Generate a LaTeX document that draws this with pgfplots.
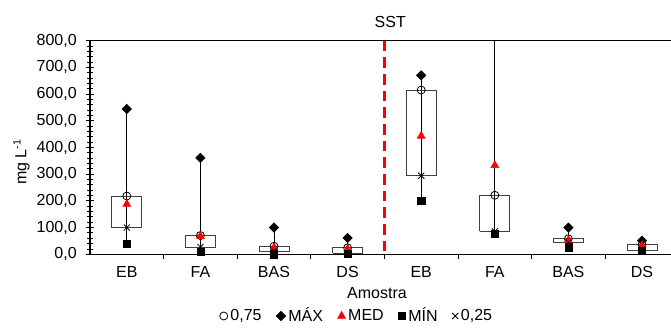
\documentclass[border=0pt]{standalone}
\usepackage{fontspec}
\setmainfont{Liberation Sans}
\usepackage{pgfplots}
\pgfplotsset{compat=1.18}
\usepackage{pgfplotstable}

\pgfplotstableread{
x q3 max med min q1
0 218 544 188 40 100
1 70 361 68 10 27
2 30 100 25 0 12
3 24 61 20 1 4
4 615 670 443 201 294
5 221 900 333 76 86
6 58 100 53 26 44
7 36 51 33 14 16
}\data

\pgfplotsset{
  bx/.style={forget plot, draw=black!75, line width=0.6pt, mark=none},
  wh/.style={forget plot, black, line width=0.6pt, mark=none},
}

\begin{document}
\fontsize{12}{14}\selectfont
\begin{tikzpicture}
\begin{axis}[
  scale only axis, width=435.75pt, height=160.2pt,
  xmin=-0.5, xmax=7.394, ymin=0, ymax=800,
  axis x line*=box, axis y line*=left,
  axis line style={black, line width=0.8pt},
  font=\fontsize{12}{14}\selectfont,
  xtick={0,...,7},
  xticklabels={EB,FA,BAS,DS,EB,FA,BAS,DS},
  xticklabel style={yshift=-5pt},
  xtick pos=left,
  major x tick style={draw=none},
  extra x ticks={0.5,1.5,2.5,3.5,4.5,5.5,6.5},
  extra x tick labels={},
  extra x tick style={major x tick style={draw=black, line width=0.6pt}, major tick length=3.75pt, tick align=outside},
  ytick={0,100,...,800},
  minor y tick num=4,
  ytick align=center,
  major y tick style={line width=0.6pt, black},
  minor y tick style={line width=0.6pt, black},
  major tick length=6.5pt, minor tick length=4.5pt,
  yticklabel style={xshift=-2.5pt, /pgf/number format/.cd, fixed, fixed zerofill, precision=1, use comma},
  /pgf/number format/assume math mode=true,
  xlabel={Amostra},
  ylabel={mg L\textsuperscript{-1}},
  xlabel style={at={(axis description cs:0.494,-0.181)}, anchor=center},
  ylabel style={at={(axis description cs:-0.118,0.432)}, anchor=center},
  legend style={at={(axis description cs:0.46,-0.289)}, anchor=center, draw=none,
    font=\fontsize{12}{14}\selectfont, inner sep=0pt,
    /tikz/every even column/.append style={column sep=9pt}},
  legend columns=5,
  legend cell align=left,
]
% whiskers (min to max)
\addplot[wh] coordinates {(0,40) (0,544)};
\addplot[wh] coordinates {(1,10) (1,361)};
\addplot[wh] coordinates {(2,0) (2,100)};
\addplot[wh] coordinates {(3,1) (3,61)};
\addplot[wh] coordinates {(4,201) (4,670)};
\addplot[wh] coordinates {(5,76) (5,900)};
\addplot[wh] coordinates {(6,26) (6,100)};
\addplot[wh] coordinates {(7,14) (7,51)};
% boxes (0,25 to 0,75)
\addplot[bx] coordinates {(-0.205,100) (0.205,100) (0.205,218) (-0.205,218) (-0.205,100)};
\addplot[bx] coordinates {(0.795,27) (1.205,27) (1.205,70) (0.795,70) (0.795,27)};
\addplot[bx] coordinates {(1.795,12) (2.205,12) (2.205,30) (1.795,30) (1.795,12)};
\addplot[bx] coordinates {(2.795,4) (3.205,4) (3.205,24) (2.795,24) (2.795,4)};
\addplot[bx] coordinates {(3.795,294) (4.205,294) (4.205,615) (3.795,615) (3.795,294)};
\addplot[bx] coordinates {(4.795,86) (5.205,86) (5.205,221) (4.795,221) (4.795,86)};
\addplot[bx] coordinates {(5.795,44) (6.205,44) (6.205,58) (5.795,58) (5.795,44)};
\addplot[bx] coordinates {(6.795,16) (7.205,16) (7.205,36) (6.795,36) (6.795,16)};
% red dashed separator
\addplot[forget plot, red, line width=2.2pt, dash pattern=on 8pt off 4.5pt, mark=none] coordinates {(3.5,800) (3.5,0)};
% markers
\addplot[only marks, mark=o, black, mark size=3pt, mark options={line width=0.6pt}] table[x=x, y=q3] {\data};
\addlegendentry{0,75}
\addplot[only marks, mark=square*, black, mark size=2.5pt, mark options={rotate=45}] table[x=x, y=max] {\data};
\addlegendentry{MÁX}
\addplot[only marks, mark=triangle*, red, mark size=3.4pt] table[x=x, y=med] {\data};
\addlegendentry{MED}
\addplot[only marks, mark=square*, black, mark size=2.7pt] table[x=x, y=min] {\data};
\addlegendentry{MÍN}
\addplot[only marks, mark=x, black, mark size=3.2pt, mark options={line width=0.6pt}] table[x=x, y=q1] {\data};
\addlegendentry{0,25}
\coordinate (sst) at (axis cs:3.58,800);
\end{axis}
\node[font=\fontsize{12}{14}\selectfont, yshift=14pt] at (sst) {SST};
\pgfresetboundingbox
\path ([xshift=-67.5pt,yshift=-56pt]current axis.south west) rectangle ([yshift=30.5pt]current axis.north east);
\end{tikzpicture}
\end{document}
